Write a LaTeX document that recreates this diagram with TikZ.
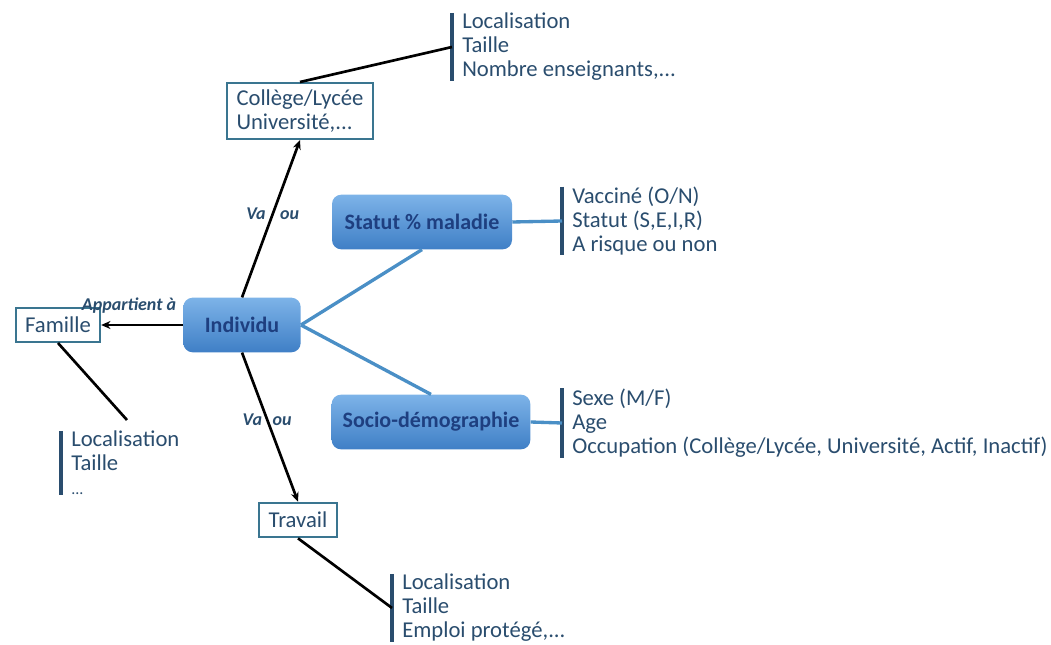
\documentclass[tikz,border=0pt]{standalone}
\usepackage{fontspec}
\setmainfont{Carlito}
\usetikzlibrary{arrows.meta}
\definecolor{txt}{HTML}{2A4D6E}
\definecolor{boxline}{HTML}{3A7590}
\definecolor{bluetop}{HTML}{7DB3E8}
\definecolor{bluebot}{HTML}{3F7FC6}
\definecolor{bluetext}{HTML}{1E3F80}
\definecolor{blueline}{HTML}{4A8FC6}
\tikzset{
  frame/.style={draw=boxline,line width=1.5pt,fill=white,text=txt,font=\fontsize{17}{18}\selectfont,align=left,inner xsep=7pt,inner ysep=5pt},
  bluebox/.style={rounded corners=7pt,top color=bluetop,bottom color=bluebot,text=bluetext,font=\fontsize{16.5}{18}\selectfont\bfseries,minimum height=41pt,draw=none},
  attrlist/.style={anchor=west,align=left,text=txt,font=\fontsize{17}{18}\selectfont,inner xsep=7.5pt,inner ysep=0pt},
  bar/.style={draw=txt,line width=2.4pt},
  link/.style={draw=black,line width=2pt},
  arrowlink/.style={link,-{Stealth[length=7pt,width=6pt]}},
  bluelink/.style={draw=blueline,line width=2.5pt},
  lbl/.style={font=\fontsize{13.5}{15}\selectfont\bfseries\itshape,text=txt,inner sep=1pt}
}
\begin{document}
\begin{tikzpicture}[x=0.75pt,y=-0.75pt]
\useasboundingbox (0,0) rectangle (1051,645);
% nodes
\node[bluebox,minimum width=88pt] (ind) at (242,325) {Individu};
\node[bluebox,minimum width=135pt] (stat) at (422,222) {Statut \% maladie};
\node[bluebox,minimum width=149pt] (socio) at (431,422) {Socio-démographie};
\node[frame] (col) at (300,111) {Collège/Lycée\\Université,...};
\node[frame,minimum height=25.5pt] (fam) at (58,325) {Famille};
\node[frame,minimum height=26pt] (trav) at (298,520) {Travail};
% attribute lists
\node[attrlist] (lcol) at (452,47) {Localisation\\Taille\\Nombre enseignants,...};
\node[attrlist] (lstat) at (562,221) {Vacciné (O/N)\\Statut (S,E,I,R)\\A risque ou non};
\node[attrlist] (lsocio) at (562,423) {Sexe (M/F)\\Age\\Occupation (Collège/Lycée, Université, Actif, Inactif)};
\node[attrlist] (ltrav) at (392,608) {Localisation\\Taille\\Emploi protégé,...};
\node[attrlist] (lfam) at (61,463) {Localisation\\Taille\\{\fontsize{12}{18}\selectfont...}};
\foreach \l in {lcol,lstat,lsocio,ltrav,lfam}
  \draw[bar] (\l.north west) -- (\l.south west);
\coordinate (famend) at (127,420);
% connectors
\draw[arrowlink] (ind.west) -- node[lbl,above=7pt,pos=0.66] {Appartient à} (fam.east);
\draw[arrowlink] (ind.north) -- node[lbl,pos=0.53] {Va\hspace{11pt}ou} (col.south);
\draw[arrowlink] (ind.south) -- node[lbl,pos=0.45] {Va\hspace{8pt}ou} (trav.north);
\draw[link] (col.north) -- (lcol.west);
\draw[link] (trav.south) -- (ltrav.west);
\draw[link] (fam.south) -- (famend);
\draw[bluelink] (ind.east) -- (stat.south);
\draw[bluelink] (ind.east) -- (socio.north);
\draw[bluelink] (stat.east) -- (lstat.west);
\draw[bluelink] (socio.east) -- (lsocio.west);
\end{tikzpicture}
\end{document}
